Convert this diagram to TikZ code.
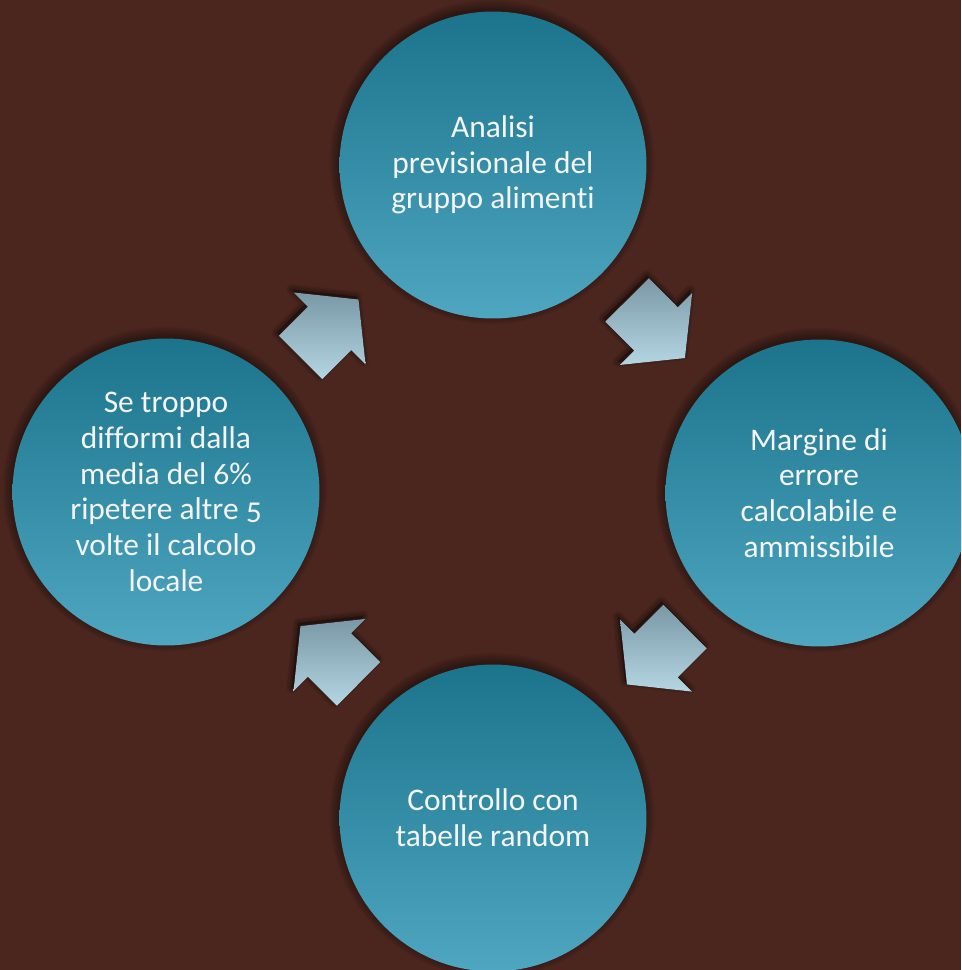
\documentclass[tikz,border=0pt]{standalone}
\usepackage{fontspec}
\setmainfont{Carlito}[Numbers=OldStyle, Ligatures=NoCommon]
\usepackage{tikz}
\usetikzlibrary{calc,arrows.meta}

\definecolor{bgbrown}{RGB}{75,38,31}
\definecolor{tealtop}{RGB}{27,116,140}
\definecolor{tealbot}{RGB}{78,166,192}
\definecolor{arrtop}{RGB}{122,152,166}
\definecolor{arrbot}{RGB}{180,214,226}

\tikzset{
    stage/.style={circle, minimum size=6.14cm, inner sep=0pt, align=center,
        top color=tealtop, bottom color=tealbot, text=white!96!black,
        font=\fontsize{17.9}{20.3}\selectfont},
    blockfill/.style={top color=arrtop, bottom color=arrbot}
}

\begin{document}
\begin{tikzpicture}[x=0.02cm, y=0.02cm, >=Stealth]
        % Canvas
        \useasboundingbox (0,0) rectangle (961,-970);
        \fill[bgbrown] (0,0) rectangle (961,-970);
        \clip (0,0) rectangle (961,-970);

        % Centres of the four stages
        \coordinate (cA) at (493,-165);
        \coordinate (cB) at (819,-493);
        \coordinate (cC) at (493,-818);
        \coordinate (cD) at (166,-492);

        % Soft shadows under the circles
        \foreach \c in {cA,cB,cC,cD}
            \foreach \i in {1,...,7}
                \fill[black, opacity=0.06] ($(\c)+(-1,3)$) circle ({151+\i*1.6});

        % Block arrows, each half way between two stages
        \def\blockarrow{(-41,-30.75) -- (0,-30.75) -- (0,-51) -- (41,0) -- (0,51) -- (0,30.75) -- (-41,30.75) -- cycle}
        \foreach \from/\to in {cA/cB, cB/cC, cC/cD, cD/cA} {
            \pgfmathanglebetweenpoints{\pgfpointanchor{\from}{center}}{\pgfpointanchor{\to}{center}}
            \let\dir\pgfmathresult
            \begin{scope}[shift={($(\from)!0.5!(\to)+(-2,3)$)}, rotate=\dir]
                \foreach \i in {1,...,4}
                    \filldraw[black, opacity=0.08, line width=\i*1.5pt, line join=round] \blockarrow;
            \end{scope}
            \begin{scope}[shift={($(\from)!0.5!(\to)$)}, rotate=\dir]
                \fill[blockfill] \blockarrow;
            \end{scope}
        }

        % Stages
        \node[stage] (analisi) at (cA) {Analisi\\previsionale del\\gruppo alimenti};
        \node[stage] (margine) at (cB) {Margine di\\errore\\calcolabile e\\ammissibile};
        \node[stage] (controllo) at (cC) {Controllo con\\tabelle random};
        \node[stage] (ripetere) at (cD) {Se troppo\\difformi dalla\\media del 6\%\\ripetere altre 5\\volte il calcolo\\locale};
    \end{tikzpicture}
\end{document}
